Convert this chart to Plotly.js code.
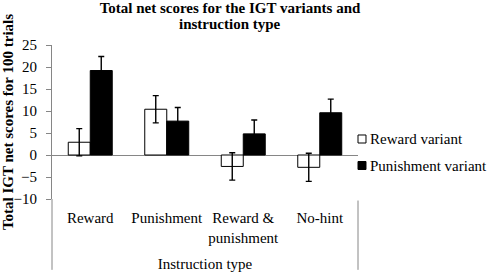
<!DOCTYPE html>
<html>
<head>
<meta charset="utf-8">
<script src="https://cdn.plot.ly/plotly-3.0.1.min.js"></script>
<style>html,body{margin:0;padding:0;background:#fff;}#chart{width:490px;height:274px;}</style>
</head>
<body>
<div id="chart"></div>
<script>
var categories = ["Reward", "Punishment", "Reward & punishment", "No-hint"];
var tickLabels = ["Reward", "Punishment", "Reward &<br>punishment", "No-hint"];
var rewardVariant = [2.9, 10.4, -2.6, -2.8];
var rewardVariantErr = [3.1, 3.1, 3.1, 3.2];
var punishmentVariant = [19.2, 7.7, 4.8, 9.6];
var punishmentVariantErr = [3.2, 3.1, 3.15, 3.1];
var seriesNames = ["Reward variant", "Punishment variant"];
var yTicks = [-10, -5, 0, 5, 10, 15, 20, 25];

var FONT = "Liberation Serif, Times New Roman, serif";
var errStyle = {type: "data", visible: true, color: "#000", thickness: 1.4, width: 3};

var traces = [
  {type: "bar", name: seriesNames[0], x: categories, y: rewardVariant,
   error_y: Object.assign({array: rewardVariantErr}, errStyle),
   marker: {color: "#ffffff", line: {color: "#000", width: 1}}, showlegend: false},
  {type: "bar", name: seriesNames[1], x: categories, y: punishmentVariant,
   error_y: Object.assign({array: punishmentVariantErr}, errStyle),
   marker: {color: "#000000", line: {color: "#000", width: 1}}, showlegend: false}
];

var layout = {
  width: 490, height: 274,
  margin: {l: 52, r: 132, t: 45, b: 75},
  paper_bgcolor: "#fff", plot_bgcolor: "#fff",
  font: {family: FONT, size: 15, color: "#000"},
  barmode: "group", bargap: 0.425, bargroupgap: 0,
  title: {text: "<b>Total net scores for the IGT variants and</b>",
          font: {family: FONT, size: 15, color: "#000"},
          x: 230/490, xanchor: "center", xref: "container",
          y: 1 - 7.5/274, yanchor: "middle", yref: "container"},
  xaxis: {type: "category", categoryarray: categories, tickvals: categories, ticktext: tickLabels,
          showline: false, showgrid: false, zeroline: false, ticks: "",
          ticklabelstandoff: 8,
          tickfont: {family: FONT, size: 15, color: "#000"},
          title: {text: "Instruction type", font: {family: FONT, size: 15, color: "#000"}, standoff: 13},
          automargin: false, fixedrange: true},
  yaxis: {range: [-10, 25], tickvals: yTicks, showgrid: false,
          showline: true, linecolor: "#868686", linewidth: 1,
          ticks: "outside", ticklen: 5, tickcolor: "#868686",
          ticklabelstandoff: 6,
          zeroline: true, zerolinecolor: "#868686", zerolinewidth: 1,
          tickfont: {family: FONT, size: 15, color: "#000"},
          title: {text: "<b>Total IGT net scores for 100 trials</b>", font: {family: FONT, size: 15, color: "#000"}, standoff: 8},
          automargin: false, fixedrange: true},
  shapes: [
    {type: "line", xref: "paper", yref: "paper", x0: 0, x1: 0, y0: 0, y1: -0.46, line: {color: "#868686", width: 1}},
    {type: "line", xref: "paper", yref: "paper", x0: 1, x1: 1, y0: -0.01, y1: -0.46, line: {color: "#868686", width: 1}},
    {type: "rect", xref: "paper", yref: "paper", x0: 1.0, x1: 1.0261, y0: 0.3636, y1: 0.4156, fillcolor: "#fff", line: {color: "#000", width: 1}},
    {type: "rect", xref: "paper", yref: "paper", x0: 1.0, x1: 1.0261, y0: 0.1916, y1: 0.2435, fillcolor: "#000", line: {color: "#000", width: 1}}
  ],
  annotations: [
    {text: "<b>instruction type</b>", xref: "paper", yref: "paper", x: (230-52)/306, y: (199-24)/154,
     xanchor: "center", yanchor: "middle", showarrow: false, font: {family: FONT, size: 15, color: "#000"}},
    {text: seriesNames[0], xref: "paper", yref: "paper", x: 1.0327, y: 0.3896, xanchor: "left", yanchor: "middle",
     showarrow: false, font: {family: FONT, size: 15, color: "#000"}},
    {text: seriesNames[1], xref: "paper", yref: "paper", x: 1.0327, y: 0.2162, xanchor: "left", yanchor: "middle",
     showarrow: false, font: {family: FONT, size: 15, color: "#000"}}
  ]
};

Plotly.newPlot("chart", traces, layout, {displayModeBar: false, staticPlot: true});
</script>
</body>
</html>
